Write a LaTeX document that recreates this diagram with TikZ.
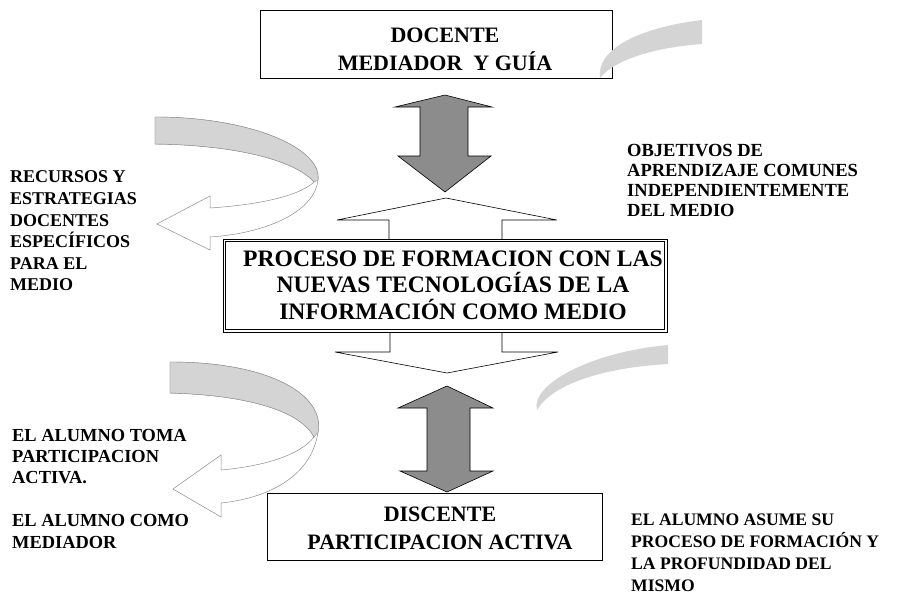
\documentclass[tikz,border=0pt]{standalone}
\usepackage{fontspec}
\setmainfont{Liberation Serif}
\definecolor{darkfill}{gray}{0.55}
\definecolor{bandfill}{gray}{0.83}
\definecolor{bandline}{gray}{0.55}
\tikzset{
  lbl/.style={font=\fontsize{18}{21.6}\selectfont\bfseries, align=left, anchor=west, inner sep=0},
  boxtext/.style={font=\fontsize{22}{28}\selectfont\bfseries, align=center, inner sep=0},
  framebox/.style={draw, line width=0.8pt, fill=white, inner sep=0},
  darrow/.style={draw=black, line width=0.6pt, fill=darkfill},
  warrow/.style={draw=black, line width=0.6pt, fill=white},
  band/.style={fill=bandfill, draw=bandline, line width=0.4pt},
  curv/.style={fill=white, draw=bandline, line width=0.5pt},
}
\begin{document}
\begin{tikzpicture}[x=1pt,y=-1pt]
\useasboundingbox (0,0) rectangle (902,595);

% ---------- boxes ----------
\node[framebox, minimum width=352, minimum height=68] (doc) at (436,44) {};
\node[boxtext] (doct) at (445,49) {DOCENTE\\MEDIADOR\ \ Y GUÍA};

% white arrows (drawn before the process box)
\draw[warrow] (389,239) -- (389,220) -- (337,220) -- (446,198) -- (557,220) -- (502,220) -- (502,239);
\draw[warrow] (390,332) -- (390,352) -- (335,352) -- (447,373) -- (558,352) -- (502,352) -- (502,332);

\node[framebox, line width=0.7pt, minimum width=444, minimum height=93] (proc) at (445,285.5) {};
\draw[line width=0.7pt] ([xshift=2.6pt,yshift=2.6pt]proc.south west) rectangle ([xshift=-2.6pt,yshift=-2.6pt]proc.north east);
\node[boxtext, font=\fontsize{23.6}{26.5}\selectfont\bfseries] (proct) at (453,285) {PROCESO DE FORMACION CON LAS\\NUEVAS TECNOLOGÍAS DE LA\\INFORMACIÓN COMO MEDIO};

\node[framebox, minimum width=335, minimum height=67] (dis) at (434.5,526.5) {};
\node[boxtext] (dist) at (440,528) {DISCENTE\\PARTICIPACION ACTIVA};

% ---------- grey double arrows ----------
\draw[darrow] (445,95) -- (492,107) -- (468,107) -- (468,156) -- (491,156) -- (445,192) -- (398,156) -- (420,156) -- (420,107) -- (395,107) -- cycle;
\draw[darrow] (447,386) -- (493,408) -- (470,408) -- (470,471) -- (493,471) -- (447,492) -- (400,471) -- (427,471) -- (427,408) -- (398,408) -- cycle;

% ---------- curved arrow top left ----------
\draw[curv] (155,117) .. controls (250,117) and (322,148) .. (318,180)
  .. controls (315,210) and (270,233) .. (210,237) -- (210,250) -- (157,224) -- (210,196) -- (210,208)
  .. controls (255,205) and (298,197) .. (314,182)
  .. controls (295,160) and (235,145) .. (155,144) -- cycle;
\draw[band] (155,117) .. controls (250,117) and (322,148) .. (318,180) -- (314,182)
  .. controls (295,160) and (235,145) .. (155,144) -- cycle;

% ---------- curved arrow bottom left ----------
\draw[curv] (170,362) .. controls (270,362) and (325,395) .. (318,432)
  .. controls (312,475) and (270,498) .. (221,503) -- (221,517) -- (173,489) -- (221,455) -- (221,470)
  .. controls (265,466) and (300,455) .. (314,437)
  .. controls (300,410) and (245,395) .. (170,393) -- cycle;
\draw[band] (170,362) .. controls (270,362) and (325,395) .. (318,432) -- (314,437)
  .. controls (300,410) and (245,395) .. (170,393) -- cycle;

% ---------- right bands ----------
\fill[bandfill] (600,78) .. controls (596,45) and (650,26) .. (702,20) -- (702,44) .. controls (660,47) and (616,58) .. (600,78) -- cycle;
\fill[bandfill] (537,410) .. controls (530,385) and (590,352) .. (668,345) -- (668,364) .. controls (600,368) and (552,385) .. (537,410) -- cycle;

% ---------- side texts ----------
\node[lbl] (recursos) at (10,231) {RECURSOS Y\\ESTRATEGIAS\\DOCENTES\\ESPECÍFICOS\\PARA EL\\MEDIO};
\node[lbl, font=\fontsize{18.5}{20.3}\selectfont\bfseries] (objetivos) at (627,180.5) {OBJETIVOS DE\\APRENDIZAJE COMUNES\\INDEPENDIENTEMENTE\\DEL MEDIO};
\node[lbl, font=\fontsize{18.4}{21.4}\selectfont\bfseries] (alumno) at (12,488.5) {EL ALUMNO TOMA\\PARTICIPACION\\ACTIVA.\\ \\EL ALUMNO COMO\\MEDIADOR};
\node[lbl, font=\fontsize{17.6}{22}\selectfont\bfseries] (asume) at (631,553) {EL ALUMNO ASUME SU\\PROCESO DE FORMACIÓN Y\\LA PROFUNDIDAD DEL\\MISMO};
\end{tikzpicture}
\end{document}
